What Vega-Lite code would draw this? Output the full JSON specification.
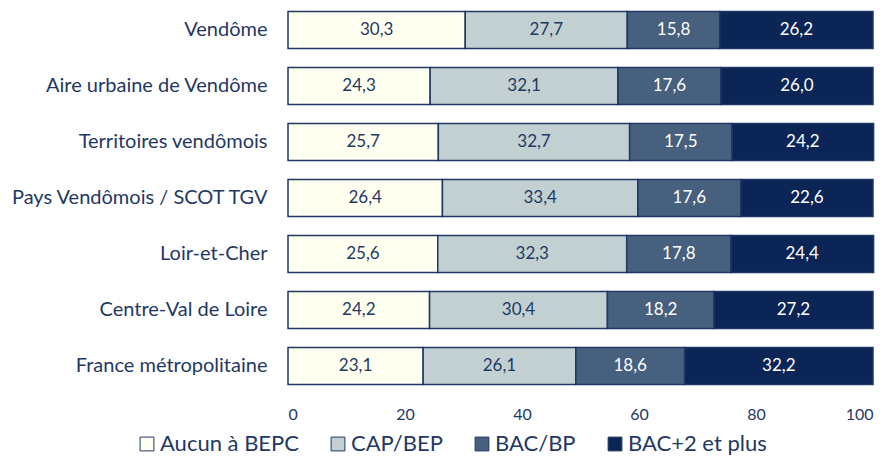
{
  "$schema": "https://vega.github.io/schema/vega-lite/v6.json",
  "autosize": "none",
  "width": 585,
  "height": 392,
  "padding": {"left": 288, "top": 2, "right": 14, "bottom": 65},
  "background": "white",
  "config": {
    "font": "Lato",
    "view": {"stroke": null},
    "locale": {"number": {"decimal": ",", "thousands": " ", "grouping": [3], "currency": ["", " €"]}}
  },
  "data": {
    "values": [
      {"zone": "Vendôme", "niveau": "Aucun à BEPC", "ord": 1, "pct": 30.3},
      {"zone": "Vendôme", "niveau": "CAP/BEP", "ord": 2, "pct": 27.7},
      {"zone": "Vendôme", "niveau": "BAC/BP", "ord": 3, "pct": 15.8},
      {"zone": "Vendôme", "niveau": "BAC+2 et plus", "ord": 4, "pct": 26.2},
      {"zone": "Aire urbaine de Vendôme", "niveau": "Aucun à BEPC", "ord": 1, "pct": 24.3},
      {"zone": "Aire urbaine de Vendôme", "niveau": "CAP/BEP", "ord": 2, "pct": 32.1},
      {"zone": "Aire urbaine de Vendôme", "niveau": "BAC/BP", "ord": 3, "pct": 17.6},
      {"zone": "Aire urbaine de Vendôme", "niveau": "BAC+2 et plus", "ord": 4, "pct": 26.0},
      {"zone": "Territoires vendômois", "niveau": "Aucun à BEPC", "ord": 1, "pct": 25.7},
      {"zone": "Territoires vendômois", "niveau": "CAP/BEP", "ord": 2, "pct": 32.7},
      {"zone": "Territoires vendômois", "niveau": "BAC/BP", "ord": 3, "pct": 17.5},
      {"zone": "Territoires vendômois", "niveau": "BAC+2 et plus", "ord": 4, "pct": 24.2},
      {"zone": "Pays Vendômois / SCOT TGV", "niveau": "Aucun à BEPC", "ord": 1, "pct": 26.4},
      {"zone": "Pays Vendômois / SCOT TGV", "niveau": "CAP/BEP", "ord": 2, "pct": 33.4},
      {"zone": "Pays Vendômois / SCOT TGV", "niveau": "BAC/BP", "ord": 3, "pct": 17.6},
      {"zone": "Pays Vendômois / SCOT TGV", "niveau": "BAC+2 et plus", "ord": 4, "pct": 22.6},
      {"zone": "Loir-et-Cher", "niveau": "Aucun à BEPC", "ord": 1, "pct": 25.6},
      {"zone": "Loir-et-Cher", "niveau": "CAP/BEP", "ord": 2, "pct": 32.3},
      {"zone": "Loir-et-Cher", "niveau": "BAC/BP", "ord": 3, "pct": 17.8},
      {"zone": "Loir-et-Cher", "niveau": "BAC+2 et plus", "ord": 4, "pct": 24.4},
      {"zone": "Centre-Val de Loire", "niveau": "Aucun à BEPC", "ord": 1, "pct": 24.2},
      {"zone": "Centre-Val de Loire", "niveau": "CAP/BEP", "ord": 2, "pct": 30.4},
      {"zone": "Centre-Val de Loire", "niveau": "BAC/BP", "ord": 3, "pct": 18.2},
      {"zone": "Centre-Val de Loire", "niveau": "BAC+2 et plus", "ord": 4, "pct": 27.2},
      {"zone": "France métropolitaine", "niveau": "Aucun à BEPC", "ord": 1, "pct": 23.1},
      {"zone": "France métropolitaine", "niveau": "CAP/BEP", "ord": 2, "pct": 26.1},
      {"zone": "France métropolitaine", "niveau": "BAC/BP", "ord": 3, "pct": 18.6},
      {"zone": "France métropolitaine", "niveau": "BAC+2 et plus", "ord": 4, "pct": 32.2}
    ]
  },
  "transform": [
    {"stack": "pct", "groupby": ["zone"], "sort": [{"field": "ord", "order": "ascending"}], "as": ["x0", "x1"]},
    {"calculate": "(datum.x0 + datum.x1) / 2", "as": "xm"}
  ],
  "encoding": {
    "y": {
      "field": "zone",
      "type": "nominal",
      "sort": ["Vendôme", "Aire urbaine de Vendôme", "Territoires vendômois", "Pays Vendômois / SCOT TGV", "Loir-et-Cher", "Centre-Val de Loire", "France métropolitaine"],
      "scale": {"paddingInner": 0.34, "paddingOuter": 0.17},
      "axis": {
        "title": null,
        "domain": false,
        "ticks": false,
        "labelPadding": 21,
        "labelFontSize": 20,
        "labelFontWeight": "normal",
        "labelLimit": 300,
        "labelColor": "#1F3864",
        "labelFont": "Lato"
      }
    }
  },
  "layer": [
    {
      "mark": {"type": "bar", "stroke": "#1F3864", "strokeWidth": 1.5},
      "encoding": {
        "x": {
          "field": "x0",
          "type": "quantitative",
          "scale": {"domain": [0, 100], "nice": false},
          "axis": {
            "title": null,
            "values": [0, 20, 40, 60, 80, 100],
            "format": "d",
            "grid": false,
            "domain": false,
            "ticks": false,
            "labelPadding": 12,
            "labelFontSize": 16,
            "labelFontWeight": "normal",
            "labelColor": "#1F3864",
            "labelFont": "Lato"
          }
        },
        "x2": {"field": "x1"},
        "color": {
          "field": "niveau",
          "type": "nominal",
          "sort": ["Aucun à BEPC", "CAP/BEP", "BAC/BP", "BAC+2 et plus"],
          "scale": {
            "domain": ["Aucun à BEPC", "CAP/BEP", "BAC/BP", "BAC+2 et plus"],
            "range": ["#FFFFF0", "#C2D0D2", "#46607E", "#0A2556"]
          },
          "legend": {
            "title": null,
            "orient": "none",
            "direction": "horizontal",
            "legendX": -152,
            "legendY": 431,
            "symbolType": "square",
            "symbolSize": 190,
            "symbolStrokeColor": "#1F3864",
            "symbolStrokeWidth": 1,
            "labelFontSize": 22,
            "labelFontWeight": "normal",
            "labelColor": "#1F3864",
            "labelFont": "Lato",
            "labelOffset": 2,
            "columnPadding": 28
          }
        }
      }
    },
    {
      "mark": {"type": "text", "fontSize": 17, "font": "Lato", "fontWeight": "normal"},
      "encoding": {
        "x": {"field": "xm", "type": "quantitative"},
        "text": {"field": "pct", "type": "quantitative", "format": ".1f"},
        "color": {
          "condition": {"test": "datum.ord >= 3", "value": "#FFFFFF"},
          "value": "#1F3864"
        }
      }
    }
  ]
}
